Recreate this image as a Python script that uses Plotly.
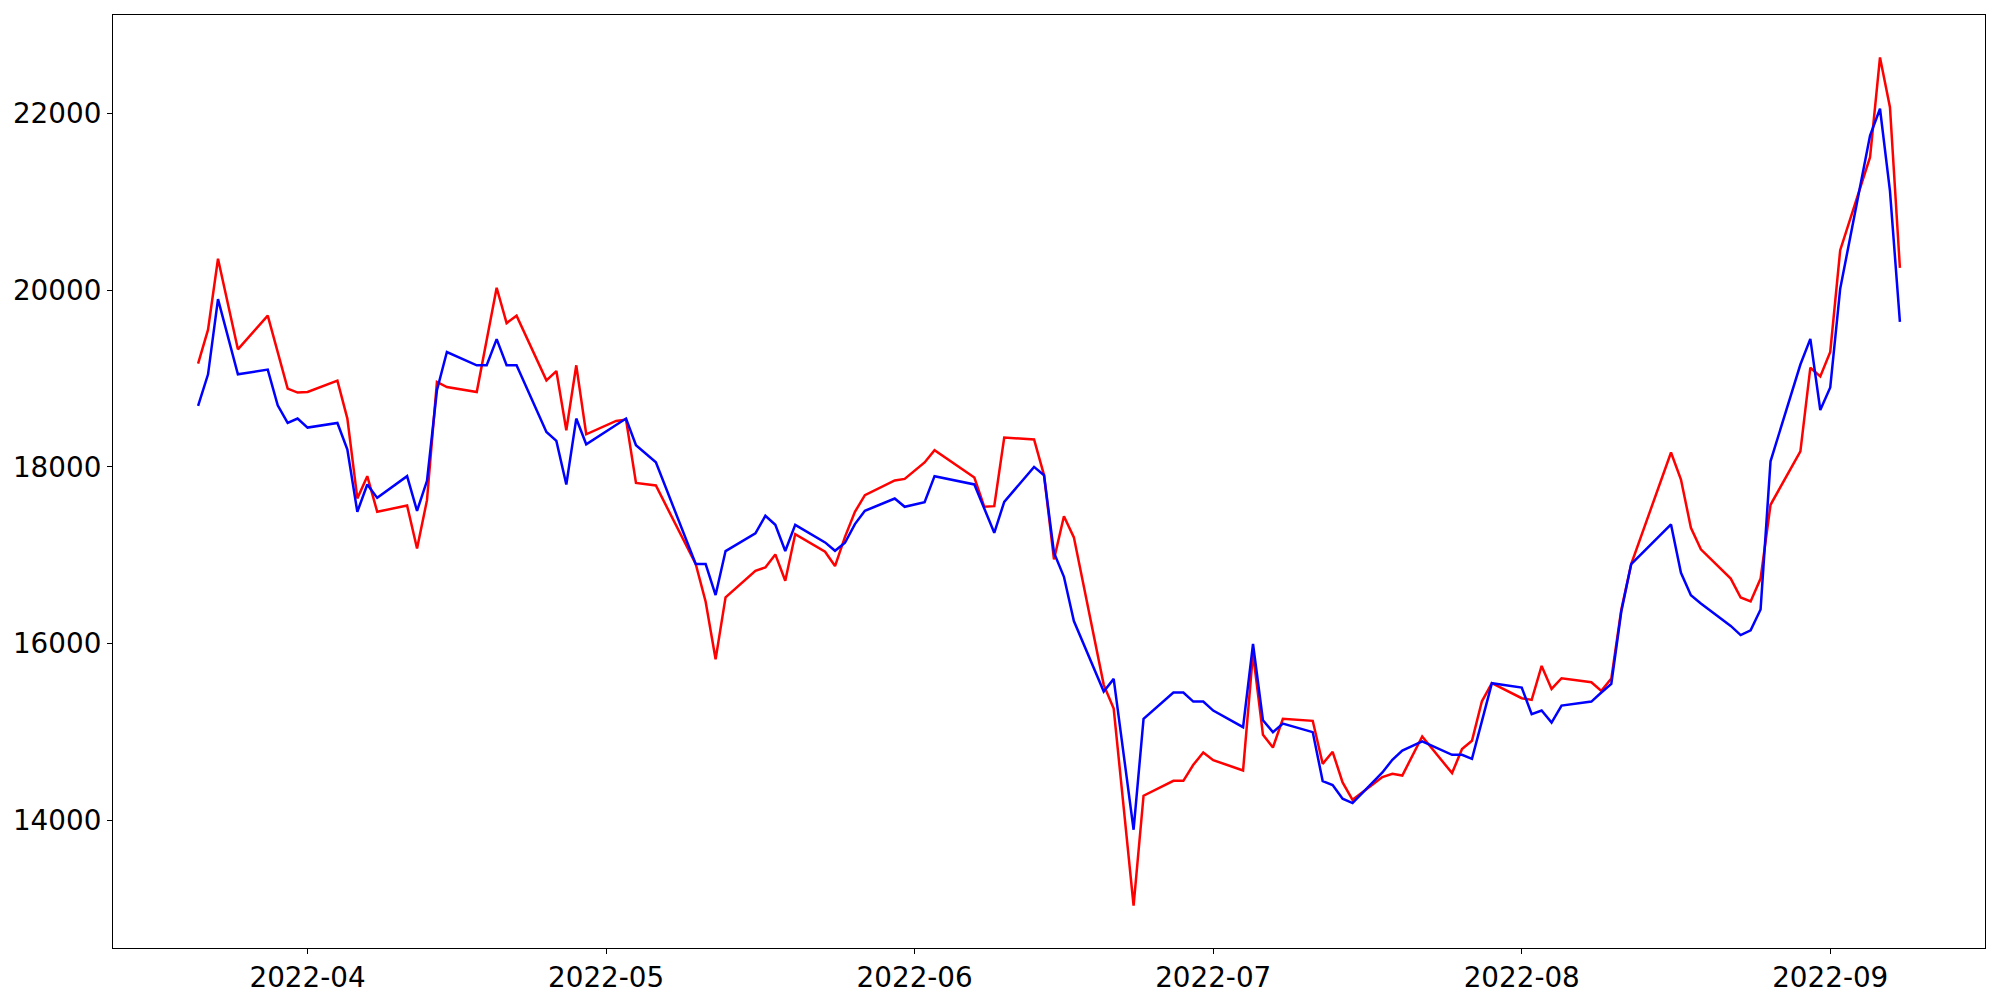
import pandas as pd
import plotly.graph_objects as go

dates = [
    "2022-03-21", "2022-03-22", "2022-03-23", "2022-03-25", "2022-03-28", "2022-03-29", "2022-03-30", "2022-03-31",
    "2022-04-01", "2022-04-04", "2022-04-05", "2022-04-06", "2022-04-07", "2022-04-08", "2022-04-11", "2022-04-12",
    "2022-04-13", "2022-04-14", "2022-04-15", "2022-04-18", "2022-04-19", "2022-04-20", "2022-04-21", "2022-04-22",
    "2022-04-25", "2022-04-26", "2022-04-27", "2022-04-28", "2022-04-29", "2022-05-02", "2022-05-03", "2022-05-04",
    "2022-05-06", "2022-05-10", "2022-05-11", "2022-05-12", "2022-05-13", "2022-05-16", "2022-05-17", "2022-05-18",
    "2022-05-19", "2022-05-20", "2022-05-23", "2022-05-24", "2022-05-25", "2022-05-26", "2022-05-27", "2022-05-30",
    "2022-05-31", "2022-06-02", "2022-06-03", "2022-06-07", "2022-06-08", "2022-06-09", "2022-06-10", "2022-06-13",
    "2022-06-14", "2022-06-15", "2022-06-16", "2022-06-17", "2022-06-20", "2022-06-21", "2022-06-23", "2022-06-24",
    "2022-06-27", "2022-06-28", "2022-06-29", "2022-06-30", "2022-07-01", "2022-07-04", "2022-07-05", "2022-07-06",
    "2022-07-07", "2022-07-08", "2022-07-11", "2022-07-12", "2022-07-13", "2022-07-14", "2022-07-15", "2022-07-18",
    "2022-07-19", "2022-07-20", "2022-07-22", "2022-07-25", "2022-07-26", "2022-07-27", "2022-07-28", "2022-07-29",
    "2022-08-01", "2022-08-02", "2022-08-03", "2022-08-04", "2022-08-05", "2022-08-08", "2022-08-09", "2022-08-10",
    "2022-08-11", "2022-08-12", "2022-08-16", "2022-08-17", "2022-08-18", "2022-08-19", "2022-08-22", "2022-08-23",
    "2022-08-24", "2022-08-25", "2022-08-26", "2022-08-29", "2022-08-30", "2022-08-31", "2022-09-01", "2022-09-02",
    "2022-09-05", "2022-09-06", "2022-09-07", "2022-09-08",
]

red_values = [
    19168, 19552, 20355, 19330, 19711, 19310, 18885, 18840,
    18847, 18976, 18546, 17642, 17894, 17490, 17562, 17076,
    17622, 18960, 18903, 18847, 19450, 20027, 19627, 19710,
    18979, 19084, 18414, 19149, 18368, 18519, 18534, 17818,
    17788, 16899, 16473, 15821, 16522, 16823, 16861, 17008,
    16710, 17238, 17038, 16876, 17207, 17490, 17679, 17845,
    17863, 18049, 18188, 17879, 17547, 17554, 18331, 18309,
    17906, 16952, 17441, 17201, 15531, 15263, 13032, 14276,
    14445, 14445, 14626, 14765, 14679, 14562, 15889, 14965,
    14822, 15146, 15124, 14637, 14773, 14426, 14230, 14487,
    14524, 14505, 14946, 14532, 14804, 14898, 15345, 15550,
    15380, 15361, 15746, 15485, 15606, 15561, 15463, 15602,
    16379, 16899, 18162, 17856, 17310, 17065, 16734, 16520,
    16475, 16734, 17570, 18174, 19122, 19023, 19300, 20453,
    21505, 22635, 22072, 20252,
]

blue_values = [
    18689, 19047, 19898, 19047, 19100, 18696, 18496, 18546,
    18444, 18496, 18196, 17490, 17800, 17648, 17894, 17501,
    17841, 18866, 19299, 19149, 19149, 19446, 19149, 19149,
    18395, 18293, 17800, 18546, 18255, 18470, 18546, 18244,
    18052, 16899, 16899, 16548, 17046, 17246, 17445, 17343,
    17046, 17343, 17144, 17049, 17140, 17351, 17501, 17641,
    17547, 17600, 17894, 17800, 17528, 17253, 17603, 17999,
    17905, 17027, 16755, 16254, 15455, 15599, 13891, 15146,
    15444, 15444, 15342, 15342, 15240, 15052, 15994, 15130,
    14996, 15093, 14996, 14442, 14397, 14242, 14193, 14539,
    14683, 14788, 14890, 14739, 14739, 14694, 15120, 15550,
    15500, 15199, 15240, 15104, 15297, 15342, 15444, 15542,
    16359, 16899, 17348, 16800, 16545, 16452, 16198, 16095,
    16148, 16385, 18062, 19158, 19448, 18643, 18898, 20016,
    21750, 22054, 21124, 19640,
]

x_tick_values = ["2022-04-01", "2022-05-01", "2022-06-01", "2022-07-01", "2022-08-01", "2022-09-01"]
x_tick_labels = ["2022-04", "2022-05", "2022-06", "2022-07", "2022-08", "2022-09"]
y_tick_values = [14000, 16000, 18000, 20000, 22000]
y_tick_labels = ["14000", "16000", "18000", "20000", "22000"]

x = pd.to_datetime(dates)
xspan = x.max() - x.min()
x_range = [x.min() - 0.05 * xspan, x.max() + 0.05 * xspan]
all_vals = red_values + blue_values
ymin, ymax = min(all_vals), max(all_vals)
ypad = 0.05 * (ymax - ymin)
y_range = [ymin - ypad, ymax + ypad]

fig = go.Figure()
fig.add_trace(go.Scatter(x=x, y=red_values, mode="lines",
                         line=dict(color="#ff0000", width=2.5), name="red"))
fig.add_trace(go.Scatter(x=x, y=blue_values, mode="lines",
                         line=dict(color="#0000ff", width=2.5), name="blue"))

axis_common = dict(
    showgrid=False, zeroline=False, showline=True, linecolor="black", linewidth=1.1,
    mirror=True, ticks="outside", ticklen=5, tickwidth=1.1, tickcolor="black",
    tickfont=dict(family="DejaVu Sans", size=27.8, color="black"),
)

# the page body adds an 8px offset; margins compensate so the plot area sits at x 113-1985, y 15-948
fig.update_layout(
    width=2000, height=1000,
    margin=dict(l=105, r=23, t=7, b=60, autoexpand=False),
    paper_bgcolor="white", plot_bgcolor="white",
    showlegend=False,
    xaxis=dict(range=x_range, tickmode="array", tickvals=x_tick_values, ticktext=x_tick_labels, **axis_common),
    yaxis=dict(range=y_range, tickmode="array", tickvals=y_tick_values, ticktext=y_tick_labels, **axis_common),
)

fig.write_html("out.html")
